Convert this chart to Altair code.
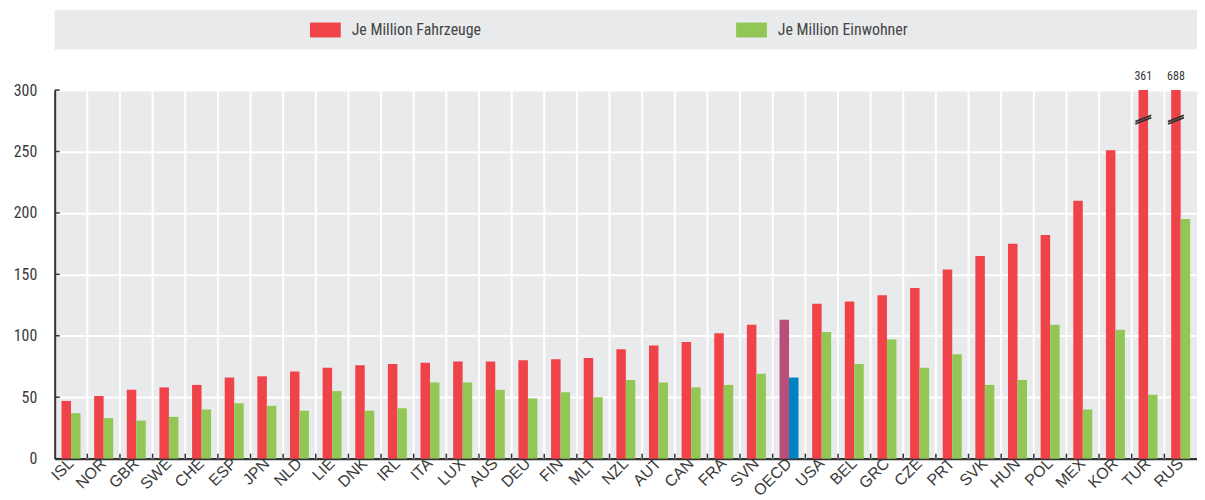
import altair as alt
import pandas as pd

countries = ["ISL", "NOR", "GBR", "SWE", "CHE", "ESP", "JPN", "NLD", "LIE", "DNK",
             "IRL", "ITA", "LUX", "AUS", "DEU", "FIN", "MLT", "NZL", "AUT", "CAN",
             "FRA", "SVN", "OECD", "USA", "BEL", "GRC", "CZE", "PRT", "SVK", "HUN",
             "POL", "MEX", "KOR", "TUR", "RUS"]
per_vehicles = [47, 51, 56, 58, 60, 66, 67, 71, 74, 76,
                77, 78, 79, 79, 80, 81, 82, 89, 92, 95,
                102, 109, 113, 126, 128, 133, 139, 154, 165, 175,
                182, 210, 251, 361, 688]
per_inhabitants = [37, 33, 31, 34, 40, 45, 43, 39, 55, 39,
                   41, 62, 62, 56, 49, 54, 50, 64, 62, 58,
                   60, 69, 66, 103, 77, 97, 74, 85, 60, 64,
                   109, 40, 105, 52, 195]
series_labels = ["Je Million Fahrzeuge", "Je Million Einwohner"]
y_ticks = [0, 50, 100, 150, 200, 250, 300]
y_max = 300
break_value = 276

RED, GREEN, PURPLE, BLUE = "#ef4249", "#93c755", "#b94e7b", "#0081c1"
BG = "#e9eaec"
DARK = "#333333"
NARROW = "Liberation Sans Narrow, Roboto Condensed, Arial Narrow, sans-serif"
SANS = "Liberation Sans, Arial, sans-serif"

rows = []
for c, v, p in zip(countries, per_vehicles, per_inhabitants):
    for s, val in (("veh", v), ("pop", p)):
        key = ("oecd_" if c == "OECD" else "") + s
        rows.append({"country": c, "series": s, "key": key, "value": val,
                     "plot": min(val, y_max), "over": val > y_max})
df = pd.DataFrame(rows)
over_df = df[df["over"]]
bounds_df = pd.DataFrame({"country": countries[1:]})
ticks_df = pd.DataFrame({"v": y_ticks})

W, H = 1150, 371
x_enc = alt.X("country:N", sort=countries, scale=alt.Scale(paddingInner=0, paddingOuter=0),
              axis=alt.Axis(title=None, labelAngle=-45, labelFontSize=16, labelFont=SANS,
                            labelColor="#3a3a3a", labelPadding=2, ticks=False, grid=False,
                            domainColor=DARK, domainWidth=2.5))
xoff = alt.XOffset("series:N", sort=["veh", "pop"], scale=alt.Scale(paddingOuter=0.72, paddingInner=0))
y_scale = alt.Scale(domain=[0, y_max], nice=False)

vgrid = alt.Chart(bounds_df).mark_rule(color="white", strokeWidth=2).encode(
    x=alt.X("country:N", sort=countries, bandPosition=0)
)
bars = alt.Chart(df).mark_bar().encode(
    x=x_enc,
    xOffset=xoff,
    y=alt.Y("plot:Q", scale=y_scale,
            axis=alt.Axis(title=None, values=y_ticks, ticks=False, labelPadding=18,
                          labelFontSize=16, labelFont=NARROW, labelColor="#3a3a3a",
                          grid=True, gridColor="white", gridWidth=2,
                          domainColor=DARK, domainWidth=2)),
    color=alt.Color("key:N", legend=None,
                    scale=alt.Scale(domain=["veh", "pop", "oecd_veh", "oecd_pop"],
                                    range=[RED, GREEN, PURPLE, BLUE])),
)
breaks = alt.Chart(over_df).mark_point(
    shape="M-1,0.55L1,-0.25M-1,0.25L1,-0.55", size=256, filled=False,
    stroke=DARK, strokeWidth=1.8, opacity=1
).encode(
    x=alt.X("country:N", sort=countries),
    xOffset=xoff,
    y=alt.datum(break_value),
)
over_text = alt.Chart(over_df).mark_text(
    dy=-14, fontSize=12, font=NARROW, color="#3a3a3a", baseline="middle"
).encode(
    x=alt.X("country:N", sort=countries),
    xOffset=xoff,
    y=alt.Y("plot:Q", scale=y_scale),
    text=alt.Text("value:Q"),
)
xticks = alt.Chart(bounds_df).mark_rule(color=DARK, strokeWidth=1.5).encode(
    x=alt.X("country:N", sort=countries, bandPosition=0),
    y=alt.value(H),
    y2=alt.value(H - 5),
)
yticks = alt.Chart(ticks_df).mark_rule(color=DARK, strokeWidth=1.5).encode(
    y=alt.Y("v:Q", scale=y_scale),
    x=alt.value(0),
    x2=alt.value(5),
)
main = alt.layer(vgrid, bars, breaks, over_text, xticks, yticks).properties(width=W, height=H)

legend_colors = [RED, GREEN]
legend_x = [257, 686]
legend_layers = []
for lab, col, lx in zip(series_labels, legend_colors, legend_x):
    ldf = pd.DataFrame({"label": [lab]})
    legend_layers.append(alt.Chart(ldf).mark_rect(color=col).encode(
        x=alt.value(lx), x2=alt.value(lx + 31), y=alt.value(13), y2=alt.value(28)))
    legend_layers.append(alt.Chart(ldf).mark_text(
        align="left", baseline="middle", fontSize=16, font=NARROW, color="#444444").encode(
        x=alt.value(lx + 42), y=alt.value(20.5), text="label:N"))
legend = alt.layer(*legend_layers).properties(width=W, height=40)

chart = alt.vconcat(legend, main, spacing=41, bounds="flush").properties(
    padding={"left": 5, "top": 0, "right": 0, "bottom": 0}
).configure_view(fill=BG, stroke=None)

chart.save("out.html", embed_options={"renderer": "svg", "actions": False})
